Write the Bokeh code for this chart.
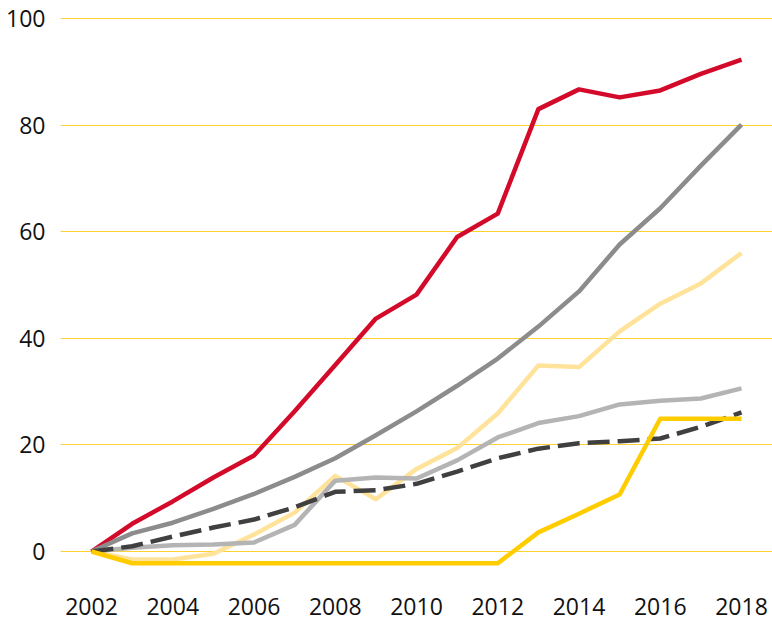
from bokeh.plotting import figure
from bokeh.models import FixedTicker, Range1d
from bokeh.embed import file_html
from bokeh.resources import INLINE

years = list(range(2002, 2019))
red = [0, 5.2, 9.4, 13.9, 18.0, 26.3, 35.0, 43.7, 48.2, 59.0, 63.4, 83.0, 86.7, 85.2, 86.5, 89.6, 92.3]
dark_gray = [0, 3.4, 5.4, 8.0, 10.8, 14.0, 17.5, 21.8, 26.3, 31.1, 36.2, 42.2, 48.8, 57.6, 64.4, 72.4, 80.1]
light_yellow = [0, -1.5, -1.5, -0.4, 3.2, 7.3, 14.2, 9.8, 15.5, 19.4, 25.9, 34.9, 34.6, 41.3, 46.5, 50.3, 56.0]
light_gray = [0, 0.7, 1.2, 1.3, 1.7, 5.0, 13.3, 13.9, 13.7, 17.1, 21.4, 24.1, 25.4, 27.6, 28.3, 28.7, 30.6]
dashed_dark = [0, 1.0, 2.8, 4.5, 6.0, 8.3, 11.2, 11.5, 12.7, 15.0, 17.5, 19.3, 20.3, 20.7, 21.2, 23.4, 26.1]
yellow = [0, -2.2, -2.2, -2.2, -2.2, -2.2, -2.2, -2.2, -2.2, -2.2, -2.2, 3.6, 7.1, 10.7, 24.9, 24.9, 24.9]

x_ticks = [2002, 2004, 2006, 2008, 2010, 2012, 2014, 2016, 2018]
y_ticks = [0, 20, 40, 60, 80, 100]

p = figure(width=772, height=623, output_backend="svg", toolbar_location=None,
           x_range=Range1d(2001.237, 2018.763), y_range=Range1d(-5.06, 100.375),
           min_border_left=60, min_border_right=0, min_border_top=16, min_border_bottom=45)
p.outline_line_color = None
p.background_fill_color = "white"
p.border_fill_color = "white"

p.xgrid.grid_line_color = None
p.ygrid.grid_line_color = "#fcd232"
p.ygrid.grid_line_width = 1

for ax in (p.xaxis, p.yaxis):
    ax.axis_line_color = None
    ax.major_tick_line_color = None
    ax.minor_tick_line_color = None
    ax.major_label_text_font = "Open Sans"
    ax.major_label_text_font_size = "23px"
    ax.major_label_text_color = "#111111"

p.xaxis.ticker = FixedTicker(ticks=x_ticks)
p.yaxis.ticker = FixedTicker(ticks=y_ticks)
p.xaxis.major_label_standoff = 13
p.yaxis.major_label_standoff = 9

lw = 4.5
p.line(years, red, line_color="#d40a2a", line_width=lw, line_join="round")
p.line(years, dark_gray, line_color="#8c8c8c", line_width=lw, line_join="round")
p.line(years, light_yellow, line_color="#ffe39a", line_width=lw, line_join="round")
p.line(years, light_gray, line_color="#b4b4b4", line_width=lw, line_join="round")
p.line(years, dashed_dark, line_color="#404040", line_width=lw, line_dash="22 8")
p.line(years, yellow, line_color="#ffcc00", line_width=lw, line_join="round")

open("out.html", "w").write(file_html(p, INLINE))
